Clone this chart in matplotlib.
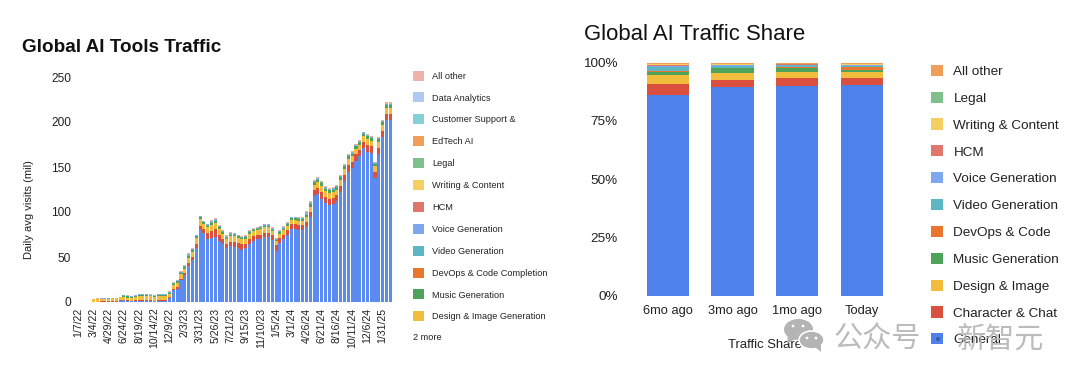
import numpy as np
import matplotlib
matplotlib.use("Agg")
import matplotlib.pyplot as plt
from matplotlib.patches import Patch, Ellipse, Circle, Polygon

plt.rcParams['font.family'] = ['Liberation Sans', 'DejaVu Sans']

# ---------- left chart data ----------
date_labels = ['1/7/22','3/4/22','4/29/22','6/24/22','8/19/22','10/14/22','12/9/22','2/3/23','3/31/23',
               '5/26/23','7/21/23','9/15/23','11/10/23','1/5/24','3/1/24','4/26/24','6/21/24','8/16/24',
               '10/11/24','12/6/24','1/31/25']
general = [.2,.2,.3,.3,.3,.4,.5,1,
           2,1.5,1,1,1,1,1,1,1,1,1,1,
           5,13,15,24,30,40,47,60,81,77,
           70,71,72,68,64,60,62,61,60,58,
           60,65,68,70,70,72,72,69,57,66,
           70,75,81,81,80,80,83,94,118,120,
           114,110,108,109,112,122,134,145,149,157,
           162,171,167,166,138,164,183,202,202]
character = [.2,.3,.3,.3,.4,.5,.7,1,
             .5,.5,.5,.7,.8,.8,.8,.7,.5,.8,.8,.8,
             1,1.5,1.5,2,2,3,3,4,4,4,
             7,8,9,6,6,5,5,6,6,6,
             5,5,5,4.5,5,5,5,5,6,5,
             4.5,5,6,6,6,6,6,6,6,7,
             8,7,7,7,7,7,7,7,7,7,
             7,7,7,7,7,7,7,7,7]
design = [2.5,3,3,3,3,3,3,3.5,
          3,3,3,4,5,5,5,4.5,4,4.5,4.5,4.5,
          3,4,5,5,5,6,6,7,7,6,
          6,7,7,7,6,5,6,6,5.5,5.5,
          5.5,6,5.5,5.5,6,6,6,5,4.5,5,
          5.5,5,4.5,4.5,4.5,4.5,5,6,6,6,
          7,6,6,6,6,7,7,7,6,6,
          6,6,7,6,6,7,7,7,7]
music = [.1,.1,.1,.1,.1,.1,.1,.2,
         1.5,1.2,1,.8,.8,.8,.8,.8,1,1.2,1.2,1.2,
         1,1.5,1.5,1.5,2,2,2,2,2,1.5,
         1.5,2,2,2,2,1.5,2,1.5,1.5,1.5,
         1.5,1.5,1.5,1.2,1.5,1.5,1.5,1.5,1.5,1.5,
         1.5,1.5,1.5,1.5,1.5,1.5,2.5,3,3,3,
         3,3,3,3,3,3,3,3,3,3,
         2.5,3,3,3,2.5,3,3,3,3]
video = [.2,.1,.1,.1,.2,.2,.2,.1,
         .4,.5,.6,.6,.6,.6,.6,.6,.6,.6,.6,.6,
         .8,.8,.8,.6,.8,1.2,.8,.8,.8,.6,
         1,1.2,1.2,1.2,.8,1,1.2,1,.8,.8,
         .8,1,.8,.7,1,1,1,1,.8,1,
         1,1,.8,.8,.8,.8,1.8,1.2,.8,.8,
         .8,.8,.8,.8,.8,.8,.5,.8,.8,.8,
         .8,.8,.8,.8,.8,.8,.8,.8,.8]
voice = [.1,.1,.1,.1,.2,.1,.2,.1,
         .3,.3,.3,.3,.3,.3,.3,.3,.3,.3,.3,.3,
         .5,.5,.5,.4,.5,.8,.5,.5,.5,.4,
         .7,.8,.8,.8,.5,.7,.8,.7,.5,.5,
         .5,.7,.5,.5,.7,.7,.7,.7,.5,.7,
         .7,.7,.5,.5,.5,.5,1.2,.8,.6,.6,
         .6,.6,.6,.6,.6,.6,.5,.6,.6,.6,
         .6,.6,.6,.6,.6,.6,.6,.6,.6]
all_other = [.2,.2,.1,.1,.3,.2,.3,.1,
             .3,.5,.6,.6,.5,.5,.5,.6,.6,.6,.6,.6,
             .7,.7,.7,.5,.7,1,.7,.7,.7,.5,
             .8,1,1,1,.7,.8,1,.8,.7,.7,
             .7,.8,.7,.6,.8,.8,.8,.8,.7,.8,
             .8,.8,.7,.7,.7,.7,1.5,1,1,1,
             1,1,1,1,1,1,1,1,1,1,
             1,1,1,1,1,1,1,2,2]
left_legend = ['All other','Data Analytics','Customer Support &','EdTech AI','Legal','Writing & Content','HCM',
               'Voice Generation','Video Generation','DevOps & Code Completion','Music Generation',
               'Design & Image Generation']
left_legend_colors = ['#EFB3AB','#AFC9F5','#85D0D6','#EF9F58','#7FBF8B','#F5CF62','#E0776C',
                      '#7FA7EE','#5CB6C4','#E8762E','#4EA35A','#F2BC3C']

# ---------- right chart data ----------
periods = ['6mo ago','3mo ago','1mo ago','Today']
share_series = ['General','Character & Chat','Design & Image','Music Generation','DevOps & Code','Video Generation',
                'Voice Generation','HCM','Writing & Content','Legal','All other']
share_general = [86.0,89.4,90.0,90.5]
share_character = [5.0,3.2,3.2,2.7]
share_design = [3.6,2.9,2.8,2.8]
share_music = [1.4,2.0,1.5,0.8]
share_devops = [0.5,0.3,0.5,1.2]
share_video = [1.5,0.9,0.8,0.7]
share_voice = [0.5,0.3,0.3,0.3]
share_hcm = [0.3,0.1,0.1,0.1]
share_writing = [0.5,0.2,0.2,0.2]
share_legal = [0.2,0.1,0.1,0.1]
share_other = [0.9,0.5,0.4,0.5]
share_colors = ['#4F81EA','#DB4F3F','#F2BC3C','#4EA35A','#E8762E','#5CB6C4','#7FA7EE','#E0776C','#F5CF62','#7FBF8B','#EF9F58']

W, H = 1080, 380
fig = plt.figure(figsize=(W/100, H/100), dpi=100, facecolor='white')
def px_axes(l, t, r, b, **kw):
    return fig.add_axes([l/W, 1-b/H, (r-l)/W, (b-t)/H], **kw)

TXT = '#222222'

# ---------- left chart ----------
ax = px_axes(76.4, 77, 392.5, 302)
first_bar = 4
x = np.arange(first_bar, first_bar + len(general))
bottom = np.zeros(len(general))
for vals, c in [(general,'#5B8BEE'),(character,'#DB4F3F'),(design,'#F2BC3C'),(music,'#4EA35A'),
                (video,'#5CB6C4'),(voice,'#8FAEEF'),(all_other,'#EFB08A')]:
    ax.bar(x, vals, bottom=bottom, width=0.8, color=c, linewidth=0)
    bottom += np.array(vals)
ax.set_xlim(-0.5, 82.6)
ax.set_ylim(0, 250)
ax.set_yticks([0,50,100,150,200,250])
ax.set_xticks(np.arange(len(date_labels))*4)
ax.set_xticklabels(date_labels, rotation=90, fontsize=7.6, color=TXT)
ax.tick_params(axis='y', length=0, labelsize=8.6, labelcolor=TXT, pad=4)
ax.tick_params(axis='x', length=0, pad=4)
for s in ax.spines.values():
    s.set_visible(False)
fig.text(29/W, 1-210/H, 'Daily avg visits (mil)', rotation=90, fontsize=8, color=TXT, ha='center', va='center')
fig.text(22/W, 1-47/H, 'Global AI Tools Traffic', fontsize=13.6, fontweight='bold', color='#111111', ha='left', va='center')

leg1 = fig.legend(handles=[Patch(facecolor=c, label=l) for l, c in zip(left_legend, left_legend_colors)],
                  loc='upper left', bbox_to_anchor=(408/W, 1-66/H), frameon=False, fontsize=6.6,
                  labelcolor=TXT, handlelength=1.2, handleheight=1.3, handletextpad=0.9, labelspacing=1.29,
                  borderpad=0.5, borderaxespad=0)
fig.text(413/W, 1-338/H, '2 more', fontsize=6.6, color=TXT, ha='left', va='center')

# ---------- right chart ----------
ax2 = px_axes(636, 62.5, 895, 296)
xpos = np.arange(len(periods))
arrays = [share_general, share_character, share_design, share_music, share_devops, share_video,
          share_voice, share_hcm, share_writing, share_legal, share_other]
bot = np.zeros(len(periods))
for vals, c in zip(arrays, share_colors):
    ax2.bar(xpos, vals, bottom=bot, width=0.65, color=c, linewidth=0)
    bot += np.array(vals)
ax2.set_xlim(-0.49, 3.51)
ax2.set_ylim(0, 100)
ax2.set_yticks([0,25,50,75,100])
ax2.set_yticklabels(['0%','25%','50%','75%','100%'])
ax2.set_xticks(xpos)
ax2.set_xticklabels(periods)
ax2.tick_params(axis='y', length=0, labelsize=9.7, labelcolor=TXT, pad=13)
ax2.tick_params(axis='x', length=0, labelsize=9.3, labelcolor=TXT, pad=6.5)
for s in ax2.spines.values():
    s.set_visible(False)
fig.text(765/W, 1-345/H, 'Traffic Share', fontsize=9.4, color=TXT, ha='center', va='center')
fig.text(584/W, 1-34/H, 'Global AI Traffic Share', fontsize=15.9, color='#111111', ha='left', va='center')

leg2 = fig.legend(handles=[Patch(facecolor=c, label=l) for l, c in zip(share_series[::-1], share_colors[::-1])],
                  loc='upper left', bbox_to_anchor=(924.5/W, 1-58/H), frameon=False, fontsize=9.7,
                  labelcolor=TXT, handlelength=0.9, handleheight=0.9, handletextpad=0.75, labelspacing=1.01,
                  borderpad=0.5, borderaxespad=0)

# ---------- watermark ----------
ov = fig.add_axes([0, 0, 1, 1], zorder=10)
ov.set_xlim(0, W); ov.set_ylim(H, 0); ov.axis('off'); ov.patch.set_alpha(0)
G = '#b4b4b4'
ov.add_patch(Ellipse((798.5, 329.5), 29, 21, color=G, lw=0))
ov.add_patch(Polygon([[788,335],[787,344],[795,339]], color=G, lw=0))
ov.add_patch(Ellipse((811.5, 340), 25, 18, facecolor=G, edgecolor='white', lw=1.2))
ov.add_patch(Polygon([[815,347],[821,352],[821,345]], color=G, lw=0))
for cx, cy in [(793,326),(803,326),(807,338),(816,338)]:
    ov.add_patch(Circle((cx, cy), 1.4, color='white', lw=0))
ov.add_patch(Circle((938, 339), 2, color='#3a5aa0', lw=0))
cjk = ['Noto Sans CJK SC','DejaVu Sans']
ov.text(834, 340, '公众号', fontsize=21, color=G, family=cjk, ha='left', va='center', alpha=0.9)
ov.text(957, 340, '新智元', fontsize=21, color=G, family=cjk, ha='left', va='center', alpha=0.9)

fig.savefig('out.png', dpi=100)
